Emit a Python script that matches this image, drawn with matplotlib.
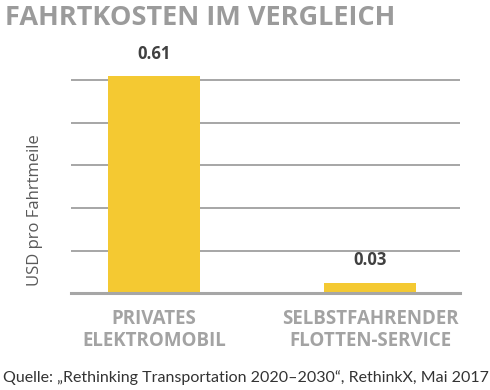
import matplotlib
matplotlib.use("Agg")
import matplotlib.pyplot as plt
from matplotlib.ticker import MultipleLocator

categories = ["PRIVATES\nELEKTROMOBIL", "SELBSTFAHRENDER\nFLOTTEN-SERVICE"]
values = [0.61, 0.03]
value_labels = ["0.61", "0.03"]
title = "FAHRTKOSTEN IM VERGLEICH"
ylabel = "USD pro Fahrtmeile"
source = "Quelle: \u201eRethinking Transportation 2020\u20132030\u201c, RethinkX, Mai 2017"

W, H = 490, 390
fig = plt.figure(figsize=(W / 100, H / 100), dpi=100)
fig.patch.set_facecolor("white")

left, right, bottom_px, top_px = 71, 460, 293.3, 72.9
ax = fig.add_axes([left / W, 1 - bottom_px / H, (right - left) / W, (bottom_px - top_px) / H])

bar_color = "#F4C932"
grid_color = "#A6A6A6"
x = list(range(len(categories)))
ax.bar(x, values, width=0.425, color=bar_color, zorder=3, clip_on=False)
ax.set_xlim(-0.385, 1.415)
ax.set_ylim(0, 0.62)
ax.yaxis.set_major_locator(MultipleLocator(0.12))
ax.grid(axis="y", color=grid_color, linewidth=1.4, zorder=0)
ax.set_axisbelow(True)
for s in ["top", "right", "left"]:
    ax.spines[s].set_visible(False)
ax.spines["bottom"].set_color(grid_color)
ax.spines["bottom"].set_linewidth(2.2)
ax.spines["bottom"].set_zorder(4)
ax.tick_params(axis="y", length=0, labelleft=False)
ax.tick_params(axis="x", length=0, pad=11)
ax.set_xticks(x)
ax.set_xticklabels(categories, fontfamily="Open Sans", fontweight="bold",
                   fontsize=13.5, color="#A3A3A3", linespacing=1.15)

for xi, v, lab in zip(x, values, value_labels):
    ax.annotate(lab, (xi, v), xytext=(0, 10), textcoords="offset points",
                ha="center", va="bottom", fontfamily="Open Sans", fontweight="bold",
                fontsize=12, color="#404040")

ax.set_ylabel(ylabel, fontfamily="Open Sans", fontsize=12, color="#595959")
ax.yaxis.set_label_coords(-0.072, 0.378)

fig.text(5 / W, 1 - 25 / H, title, ha="left", va="baseline", fontfamily="Open Sans",
         fontweight="bold", fontsize=19.5, color="#9B9B9B")
fig.text(3 / W, 1 - 382 / H, source, ha="left", va="baseline", fontfamily="Lato",
         fontsize=11.5, color="#333333")

fig.savefig("out.png", dpi=100, facecolor="white")
